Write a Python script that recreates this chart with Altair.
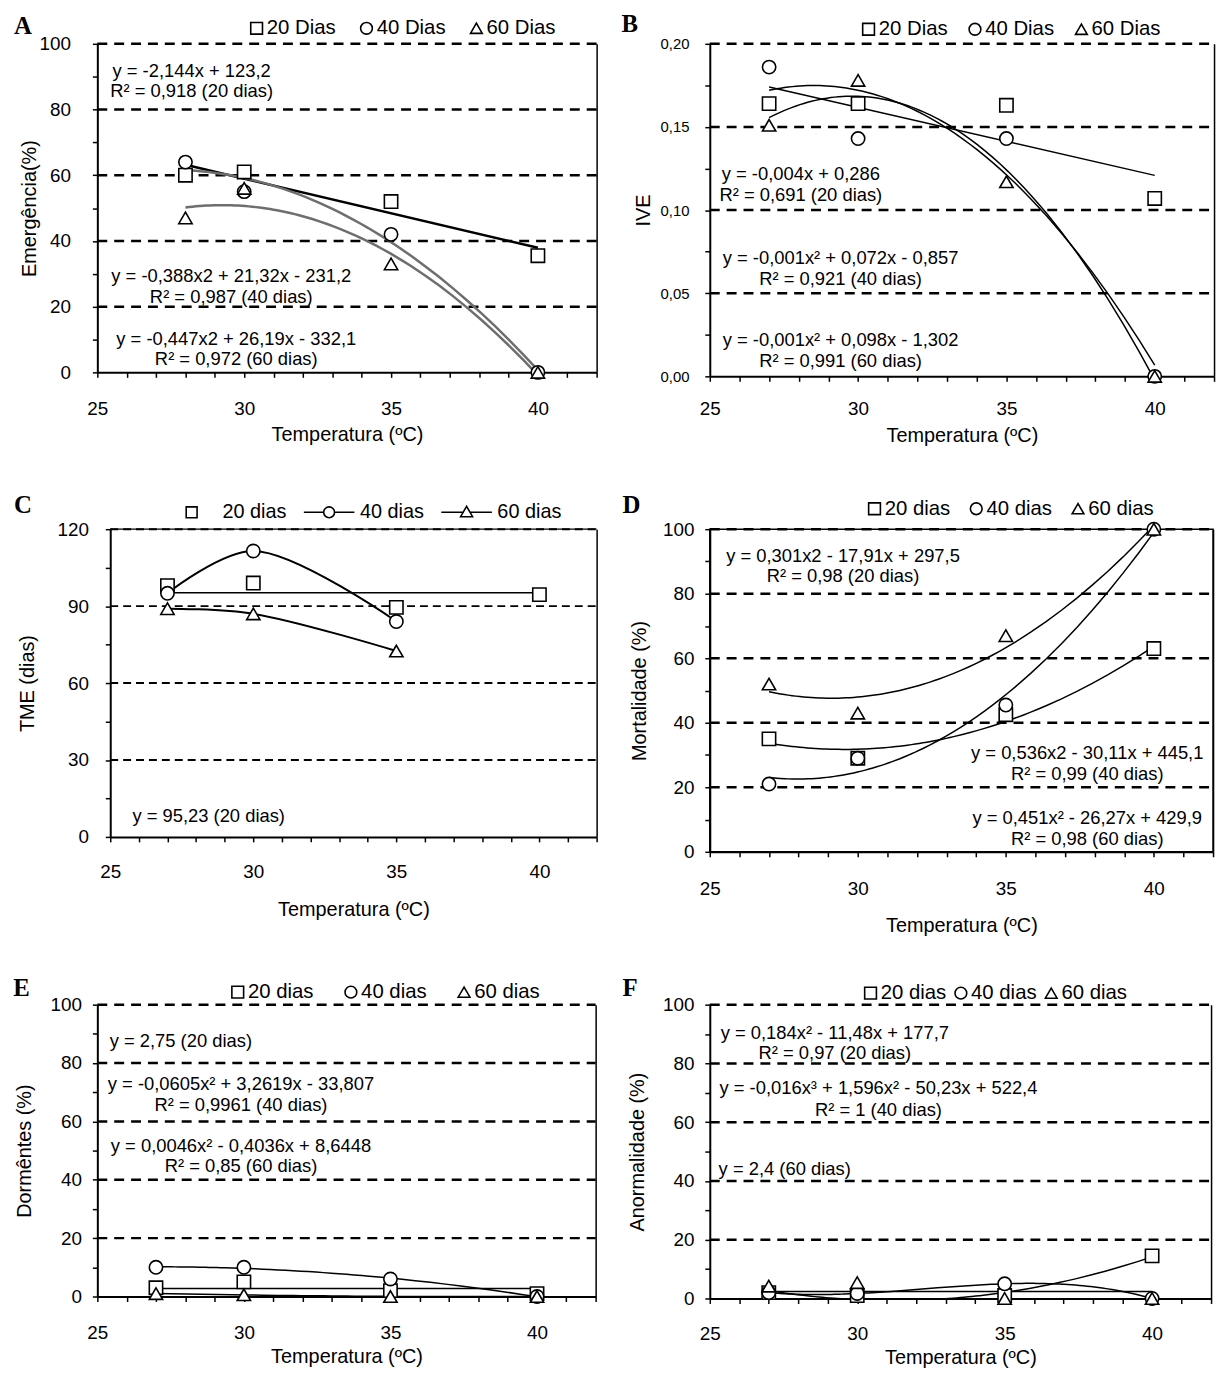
import altair as alt
import pandas as pd

FONT = "Liberation Sans"
SERIF = "Liberation Serif"

# ---------------- values ----------------
TEMPS = [27, 30, 35, 40]
TEMPS_A = [28, 30, 35, 40]
TEMPS_C_CURVE = [27, 30, 35]
LABELS_CAP = ["20 Dias", "40 Dias", "60 Dias"]
LABELS = ["20 dias", "40 dias", "60 dias"]

A_20 = [60, 61, 52, 35.5]
A_40 = [64, 55, 42, 0]
A_60 = [47, 56, 33, 0]

B_20 = [0.164, 0.164, 0.163, 0.107]
B_40 = [0.186, 0.143, 0.143, 0.0]
B_60 = [0.151, 0.178, 0.117, 0.0]

C_20 = [98, 99, 89.5, 94.5]
C_40 = [95, 111.5, 84]
C_60 = [89, 87, 72.5]

D_20 = [35, 29, 42.5, 63]
D_40 = [21, 29, 45.5, 100]
D_60 = [52, 43, 67, 100]

E_20 = [3, 5, 2, 1]
E_40 = [10, 10, 6, 0]
E_60 = [1, 0.6, 0, 0]

F_20 = [2, 1, 1, 14.5]
F_40 = [2, 1.7, 5, 0]
F_60 = [4.2, 5.4, 0, 0]

A_EQ = ["y = -2,144x + 123,2", "R² = 0,918 (20 dias)",
        "y = -0,388x2 + 21,32x - 231,2", "R² = 0,987 (40 dias)",
        "y = -0,447x2 + 26,19x - 332,1", "R² = 0,972 (60 dias)"]
B_EQ = ["y = -0,004x + 0,286", "R² = 0,691 (20 dias)",
        "y = -0,001x² + 0,072x - 0,857", "R² = 0,921 (40 dias)",
        "y = -0,001x² + 0,098x - 1,302", "R² = 0,991 (60 dias)"]
C_EQ = ["y = 95,23 (20 dias)"]
D_EQ = ["y = 0,301x2 - 17,91x + 297,5", "R² = 0,98 (20 dias)",
        "y = 0,536x2 - 30,11x + 445,1", "R² = 0,99 (40 dias)",
        "y = 0,451x² - 26,27x + 429,9", "R² = 0,98 (60 dias)"]
E_EQ = ["y = 2,75 (20 dias)",
        "y = -0,0605x² + 3,2619x - 33,807", "R² = 0,9961 (40 dias)",
        "y = 0,0046x² - 0,4036x + 8,6448", "R² = 0,85 (60 dias)"]
F_EQ = ["y = 0,184x² - 11,48x + 177,7", "R² = 0,97 (20 dias)",
        "y = -0,016x³ + 1,596x² - 50,23x + 522,4", "R² = 1 (40 dias)",
        "y = 2,4 (60 dias)"]

# ---------------- styling / layout helpers ----------------
SHAPES = ["square", "circle", "triangle-up"]
C_LEGEND_SHAPES = [
    "M-1,-1L1,-1L1,1L-1,1Z",
    "M-4.65,0L-1,0M1,0A1,1,0,1,1,-1,0A1,1,0,1,1,1,0M1,0L4.65,0",
    "M-4.65,0L-0.64,0M0,-1.1L1.1,0.8L-1.1,0.8ZM0.64,0L4.65,0",
]


def long_df(temps_list, values_list, labels):
    rows = []
    for temps, vals, lab in zip(temps_list, values_list, labels):
        for t, v in zip(temps, vals):
            rows.append({"temp": t, "value": v, "serie": lab})
    return pd.DataFrame(rows)


def legend(x, y, pad, label_offset=0, size=140, font_size=20.5):
    return alt.Legend(orient="none", legendX=x, legendY=y, direction="horizontal",
                      title=None, labelFont=FONT, labelFontSize=font_size, labelColor="black",
                      labelOffset=label_offset, symbolSize=size, symbolStrokeWidth=1.6,
                      columnPadding=pad, padding=0)


def build_panel(p):
    xoff = p.get("xoff", 0)
    if xoff:
        xs = alt.Scale(domain=[25, 42], nice=False, zero=False, range=[xoff, p["w"]])
    else:
        xs = alt.Scale(domain=[25, 42], nice=False, zero=False)
    ys = alt.Scale(domain=p["ydom"], nice=False, zero=False)
    df = p["df"]
    layers = []

    x_axis = alt.Axis(orient="bottom", values=list(range(25, 43)),
                      labelExpr="datum.value % 5 == 0 ? format(datum.value, 'd') : ''",
                      tickSize=5, tickWidth=1.5, tickColor="black",
                      domainColor="black", domainWidth=2,
                      labelFont=FONT, labelFontSize=19, labelColor="black",
                      labelPadding=p["xlabpad"], labelFlush=False, labelOverlap=False,
                      grid=False, title="Temperatura (ºC)", titleFont=FONT,
                      titleFontSize=20, titleFontWeight="normal", titleColor="black",
                      titlePadding=p["xtitlepad"])
    border_axis = alt.Axis(orient="right", grid=False, domain=True, domainColor="black",
                           domainWidth=1.5, ticks=False, labels=False, title=None)

    # dashed horizontal grid + right border + x axis
    gdf = pd.DataFrame({"g": p["grid"], "x0": 25, "x1": 42})
    layers.append(alt.Chart(gdf).mark_rule(strokeDash=p.get("dash", [10, 7]),
                                           strokeWidth=p.get("gridw", 2.5), color="black").encode(
        x=alt.X("x0:Q", scale=xs, axis=x_axis), x2="x1:Q",
        y=alt.Y("g:Q", scale=ys, axis=border_axis)))
    if p.get("top_solid") is not None:
        tdf = pd.DataFrame({"g": [p["top_solid"]], "x0": 25, "x1": 42})
        layers.append(alt.Chart(tdf).mark_rule(strokeWidth=1.2, color="black").encode(
            x=alt.X("x0:Q", scale=xs, axis=None), x2="x1:Q",
            y=alt.Y("g:Q", scale=ys, axis=None)))

    for f in p["fits"]:
        ch = alt.Chart(df).transform_filter(alt.datum.serie == f["serie"])
        yfield = "value"
        if f["kind"] == "linear":
            ch = ch.transform_regression("temp", "value", method="linear")
        elif f["kind"] == "poly":
            ch = ch.transform_regression("temp", "value", method="poly", order=f["order"])
        elif f["kind"] == "mean":
            ch = ch.transform_joinaggregate(mean_value="mean(value)")
            yfield = "mean_value"
        mk = dict(color=f.get("color", "black"), strokeWidth=f.get("width", 1.5), clip=True)
        if f["kind"] == "smooth":
            mk["interpolate"] = "catmull-rom"
        layers.append(ch.mark_line(**mk).encode(
            x=alt.X("temp:Q", scale=xs, axis=None),
            y=alt.Y(yfield + ":Q", scale=ys, axis=None),
        ))

    yargs = dict(orient="left", values=p["yticks"], labelExpr=p["ylabexpr"],
                 tickSize=5, tickWidth=1.5, tickColor="black",
                 domainColor="black", domainWidth=2,
                 labelFont=FONT, labelFontSize=p.get("ylabsize", 19), labelColor="black",
                 labelPadding=p["ylabpad"], labelOverlap=False, labelFlush=False,
                 grid=False, title=p["ytitle"], titleFont=FONT, titleFontSize=20,
                 titleFontWeight="normal", titleColor="black",
                 titleX=p["ytitlex"], titleBaseline="middle")
    if xoff:
        yargs["offset"] = -xoff
    y_axis = alt.Axis(**yargs)

    pts = alt.Chart(df).mark_point(filled=False, color="black", fill="white",
                                   strokeWidth=1.6, size=180, opacity=1).encode(
        x=alt.X("temp:Q", scale=xs, axis=None),
        y=alt.Y("value:Q", scale=ys, axis=y_axis),
        shape=alt.Shape("serie:N", scale=alt.Scale(domain=p["labels"], range=SHAPES),
                        legend=p["legend"]),
    )
    layers.append(pts)

    ann = pd.DataFrame({"text": p["ann_text"], "x": p["ann_x"], "y": p["ann_y"]})
    layers.append(alt.Chart(ann).mark_text(font=FONT, fontSize=18.5, align="center",
                                           baseline="middle", color="black").encode(
        x=alt.X("x:Q", scale=xs, axis=None),
        y=alt.Y("y:Q", scale=ys, axis=None),
        text="text:N",
    ))

    if p.get("custom_legend") is not None:
        leg = alt.Chart(df).transform_filter("false").mark_point(
            filled=False, color="black", fill="white", strokeWidth=1.6, opacity=1).encode(
            shape=alt.Shape("serie:N", scale=alt.Scale(domain=p["labels"], range=C_LEGEND_SHAPES),
                            legend=p["custom_legend"]))
        layers.append(leg)

    chart = alt.layer(*layers).resolve_axis(x="independent", y="independent")
    if p.get("custom_legend") is not None:
        chart = chart.resolve_scale(shape="independent")
    props = dict(
        width=p["w"], height=p["h"],
        title=alt.TitleParams(text=p["letter"], anchor="start", frame="group", font=SERIF,
                              fontSize=25, fontWeight="bold", color="black",
                              dx=p["tdx"], dy=p["tdy"], offset=0, baseline="alphabetic"),
    )
    if p.get("box"):
        props["view"] = alt.ViewBackground(stroke="black", strokeWidth=1.5)
    return chart.properties(**props)


Y100 = list(range(0, 101, 10))
EXPR20 = "datum.value % 20 == 0 ? datum.label : ''"
G100 = [20, 40, 60, 80, 100]

panel_a = build_panel(dict(
    df=long_df([TEMPS_A] * 3, [A_20, A_40, A_60], LABELS_CAP), labels=LABELS_CAP,
    ydom=[0, 100], yticks=Y100, ylabexpr=EXPR20, grid=G100,
    ytitle="Emergência(%)", ylabpad=22, ytitlex=-68, xlabpad=22.8, xtitlepad=6,
    fits=[dict(serie="20 Dias", kind="linear", width=2.5),
          dict(serie="40 Dias", kind="poly", order=2, color="#6e6e6e", width=2.5),
          dict(serie="60 Dias", kind="poly", order=2, color="#6e6e6e", width=2.5)],
    ann_text=A_EQ, ann_x=[28.21, 28.21, 29.56, 29.56, 29.73, 29.73],
    ann_y=[91.6, 85.5, 29.3, 23.0, 10.1, 4.2],
    legend=legend(150.2, -26, 19.7), w=503, h=331, letter="A", tdx=-84, tdy=41.5))

panel_b = build_panel(dict(
    df=long_df([TEMPS] * 3, [B_20, B_40, B_60], LABELS_CAP), labels=LABELS_CAP,
    ydom=[0, 0.2], yticks=[i * 0.025 for i in range(9)],
    ylabexpr="round(datum.value * 1000) % 50 == 0 ? replace(format(datum.value, '.2f'), '.', ',') : ''",
    grid=[0.05, 0.10, 0.15, 0.20], ylabsize=15,
    ytitle="IVE", ylabpad=16, ytitlex=-67, xlabpad=18.8, xtitlepad=7,
    fits=[dict(serie="20 Dias", kind="linear"),
          dict(serie="40 Dias", kind="poly", order=2),
          dict(serie="60 Dias", kind="poly", order=2)],
    ann_text=B_EQ, ann_x=[28.07, 28.07, 29.41, 29.41, 29.41, 29.41],
    ann_y=[0.1218, 0.1089, 0.0712, 0.0587, 0.0216, 0.0091],
    legend=legend(149.7, -25, 16.2), w=508, h=335, letter="B", tdx=-89, tdy=37.7))

panel_c = build_panel(dict(
    df=long_df([TEMPS, TEMPS_C_CURVE, TEMPS_C_CURVE], [C_20, C_40, C_60], LABELS), labels=LABELS,
    ydom=[0, 120], yticks=list(range(0, 121, 15)),
    ylabexpr="datum.value % 30 == 0 ? datum.label : ''", grid=[30, 60, 90, 120],
    dash=[8, 5], gridw=2, top_solid=120, xoff=13,
    ytitle="TME (dias)", ylabpad=17, ytitlex=-83, xlabpad=20.8, xtitlepad=18,
    fits=[dict(serie="20 dias", kind="mean"),
          dict(serie="40 dias", kind="smooth", width=2),
          dict(serie="60 dias", kind="smooth", width=2)],
    ann_text=C_EQ, ann_x=[28.44], ann_y=[8.2],
    legend=None, custom_legend=legend(85, -27, 13.5, label_offset=21, size=120, font_size=20),
    w=503, h=310, letter="C", tdx=-84, tdy=35.4))

panel_d = build_panel(dict(
    df=long_df([TEMPS] * 3, [D_20, D_40, D_60], LABELS), labels=LABELS,
    ydom=[0, 100], yticks=Y100, ylabexpr=EXPR20, grid=G100,
    ytitle="Mortalidade  (%)", ylabpad=11, ytitlex=-71, xlabpad=22.8, xtitlepad=17,
    fits=[dict(serie="20 dias", kind="poly", order=2),
          dict(serie="40 dias", kind="poly", order=2),
          dict(serie="60 dias", kind="poly", order=2)],
    ann_text=D_EQ, ann_x=[29.5, 29.5, 37.75, 37.75, 37.75, 37.75],
    ann_y=[91.6, 85.4, 30.7, 24.2, 10.6, 4.1],
    legend=legend(155.7, -31, 15.5), w=507, h=325, letter="D", tdx=-88, tdy=39.7, box=True))

panel_e = build_panel(dict(
    df=long_df([TEMPS] * 3, [E_20, E_40, E_60], LABELS), labels=LABELS,
    ydom=[0, 100], yticks=Y100, ylabexpr=EXPR20, grid=G100,
    ytitle="Dormêntes  (%)", ylabpad=11, ytitlex=-73, xlabpad=22.8, xtitlepad=4,
    fits=[dict(serie="20 dias", kind="mean"),
          dict(serie="40 dias", kind="poly", order=2),
          dict(serie="60 dias", kind="poly", order=2)],
    ann_text=E_EQ, ann_x=[27.85, 29.9, 29.9, 29.9, 29.9],
    ann_y=[87.4, 72.7, 65.5, 51.6, 44.6],
    legend=legend(131.2, -23, 27), w=502, h=294, letter="E", tdx=-84.6, tdy=39))

panel_f = build_panel(dict(
    df=long_df([TEMPS] * 3, [F_20, F_40, F_60], LABELS), labels=LABELS,
    ydom=[0, 100], yticks=Y100, ylabexpr=EXPR20, grid=G100,
    ytitle="Anormalidade  (%)", ylabpad=11, ytitlex=-72.5, xlabpad=21.8, xtitlepad=4,
    fits=[dict(serie="20 dias", kind="poly", order=2),
          dict(serie="40 dias", kind="poly", order=3),
          dict(serie="60 dias", kind="mean")],
    ann_text=F_EQ, ann_x=[29.24, 29.24, 30.72, 30.72, 27.54],
    ann_y=[90.2, 83.4, 71.6, 64.3, 44.0],
    legend=legend(151.7, -22, 4), w=505, h=296, letter="F", tdx=-88, tdy=38.7))

chart = alt.concat(panel_a, panel_b, panel_c, panel_d, panel_e, panel_f,
                   columns=2, spacing={"row": 154, "column": 114}, bounds="flush").resolve_scale(
    shape="independent").resolve_legend(shape="independent").properties(
    padding={"left": 5, "top": -2, "right": 4, "bottom": 0},
    background="white",
).configure_view(stroke=None)

chart.save("out.html", embed_options={"renderer": "svg", "actions": False})
